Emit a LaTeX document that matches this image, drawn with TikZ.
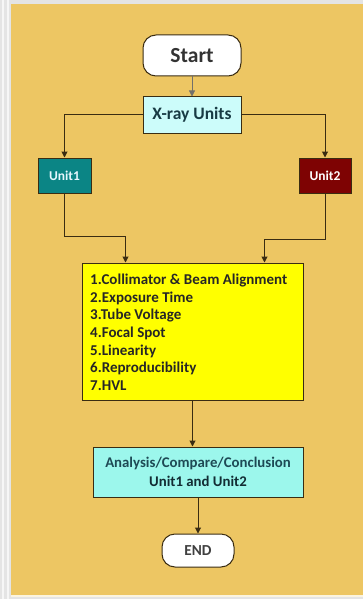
\documentclass[tikz,border=0pt]{standalone}
\usepackage{fontspec}
\setmainfont{Carlito}
\usetikzlibrary{arrows.meta,calc}
\definecolor{bgout}{HTML}{E4E4E4}
\definecolor{bgin}{HTML}{EDC663}
\definecolor{linec}{HTML}{3A2C12}
\definecolor{xcyan}{HTML}{CCFCFA}
\definecolor{tealc}{HTML}{0B8585}
\definecolor{redc}{HTML}{7E0303}
\definecolor{yel}{HTML}{FFFF00}
\definecolor{acyan}{HTML}{9CF7EC}
\definecolor{atext}{HTML}{1E4A55}
\begin{document}
\begin{tikzpicture}[x=1pt,y=-1pt,
  box/.style={draw=linec,line width=1pt,inner sep=0pt,font=\bfseries},
  term/.style={box,fill=white,rounded corners=13pt,text=black!80},
  conn/.style={draw=linec,line width=1pt},
  arr/.style={conn,-{Triangle[length=6pt,width=6pt]}}]
\useasboundingbox (0,0) rectangle (363,599);
\fill[bgout] (0,0) rectangle (363,599);
\foreach \xx in {2,7} {\fill[white,opacity=0.7] (\xx,0) rectangle (\xx+2,599);}
\fill[bgin] (11,4) rectangle (363,595);
\fill[white!80!bgin] (11,595) rectangle (363,597);
\node[term,minimum width=98pt,minimum height=41pt,font=\bfseries\fontsize{21.5}{24}\selectfont] (start) at (192,55.5) {Start};
\node[box,fill=xcyan,minimum width=98pt,minimum height=36pt,text=atext!80!black,font=\bfseries\fontsize{17.5}{20}\selectfont] (xray) at (192,115) {X-ray Units};
\node[box,fill=tealc,minimum width=53pt,minimum height=35pt,text=cyan!10,font=\bfseries\fontsize{13.5}{16}\selectfont] (u1) at (64.5,175.5) {Unit1};
\node[box,fill=redc,minimum width=52pt,minimum height=35pt,text=white,font=\bfseries\fontsize{13.5}{16}\selectfont] (u2) at (325,175.5) {Unit2};
\node[box,fill=yel,minimum width=221pt,minimum height=137pt] (list) at (192.5,331.5) {};
\node[anchor=north west,inner sep=0pt,align=left,text=black!85,font=\bfseries\fontsize{15}{17.6}\selectfont] (items) at (90,274) {1.Collimator \& Beam Alignment\\2.Exposure Time\\3.Tube Voltage\\4.Focal Spot\\5.Linearity\\6.Reproducibility\\7.HVL};
\node[box,fill=acyan,minimum width=210pt,minimum height=50pt,align=center,text=atext,font=\bfseries\fontsize{14.8}{19}\selectfont] (ana) at (198,472) {Analysis/Compare/Conclusion\\\textcolor{atext!60!black}{Unit1 and Unit2}};
\node[term,minimum width=72pt,minimum height=33pt,font=\bfseries\fontsize{15.3}{18}\selectfont,text=black!75] (end) at (198,550.5) {END};
\draw[arr,draw=gray!80!linec,line width=0.8pt] (start) -- (xray);
\draw[arr] (xray.west) -| (u1.north);
\draw[arr] (xray.east) -| (u2.north);
\draw[arr] (u1.south) |- ($(list.north west)+(44,-26)$) -- ($(list.north west)+(44,0)$);
\draw[arr] (u2.south) |- ($(list.north west)+(183,-23)$) -- ($(list.north west)+(183,0)$);
\draw[arr] (list.south) -- (list.south |- ana.north);
\draw[arr] (ana.south) -- (end.north);
\end{tikzpicture}
\end{document}
